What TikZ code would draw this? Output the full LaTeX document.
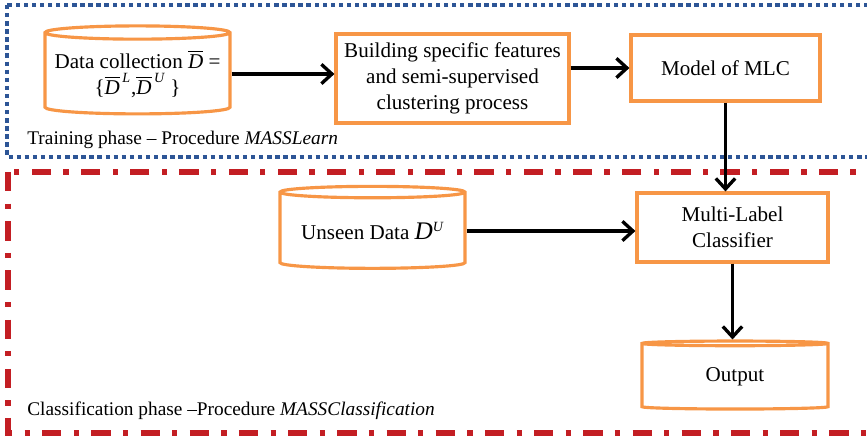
\documentclass[tikz,border=0pt]{standalone}
\usepackage{amsmath}
\usepackage{fontspec}
\setmainfont{Liberation Serif}
\usetikzlibrary{shapes.geometric,arrows.meta,positioning}
\definecolor{boxorange}{RGB}{247,150,70}
\definecolor{trainblue}{RGB}{45,85,150}
\definecolor{classred}{RGB}{195,30,35}

\begin{document}
\begin{tikzpicture}[x=0.02cm, y=-0.02cm,
    procbox/.style={draw=boxorange, line width=1.8pt, fill=white, align=center,
        inner sep=0pt, font=\fontsize{12}{15}\selectfont},
    database/.style={cylinder, shape border rotate=90, aspect=0.08, draw=boxorange,
        line width=1.8pt, fill=white, align=center, inner sep=0pt,
        font=\fontsize{12}{15}\selectfont},
    flow/.style={-{Straight Barb[length=6pt,width=11pt]}, line width=1.9pt},
    phase/.style={anchor=west, inner sep=0pt, font=\fontsize{11}{14}\selectfont}]
    \useasboundingbox (0,0) rectangle (867,439);

    % Phase frames
    \draw[trainblue, line width=2.5pt, dash pattern=on 2.5pt off 2.1pt] (7,5) rectangle (900,157); % Training
    \draw[classred, line width=3pt, dash pattern=on 11pt off 7pt on 3pt off 7pt] (8,172) rectangle (900,433); % Classification

    % Training phase
    \node[database, minimum width=185*0.02cm, minimum height=88*0.02cm] (data) at (137.5,74)
        {Data collection $\overline{\textit{D}}$ =\\ \{$\overline{\textit{D}}^{\,\textit{L}}$,$\overline{\textit{D}}^{\,\textit{U}}$ \}};
    \node[procbox, minimum width=233*0.02cm, minimum height=89*0.02cm] (build) at (452.5,78.5)
        {Building specific features\\and semi-supervised\\clustering process};
    \node[procbox, minimum width=189*0.02cm, minimum height=66*0.02cm] (model) at (725.5,68) {Model of MLC};
    \node[phase] (trainlbl) at (27,140) {Training phase -- Procedure \textit{MASSLearn}};

    % Classification phase
    \node[procbox, minimum width=191*0.02cm, minimum height=69*0.02cm] (mlc) at (732.5,227.5) {Multi-Label\\Classifier};
    \node[database, minimum width=185*0.02cm, minimum height=82*0.02cm] (unseen) at (372.5,231)
        {Unseen Data \textit{\Large D}$^{\textit{U}}$};
    \node[database, minimum width=186*0.02cm, minimum height=68*0.02cm] (output) at (735,377) {Output};
    \node[phase] (classlbl) at (27,411) {Classification phase --Procedure \textit{MASSClassification}};

    % Flow
    \draw[flow] (data.east) -- (data.east -| build.west);
    \draw[flow] (build.east |- model.west) -- (model.west);
    \draw[flow] (model.south) -- (model.south |- mlc.north);
    \draw[flow] (unseen.east) -- (unseen.east -| mlc.west);
    \draw[flow] (mlc.south) -- (mlc.south |- output.north);
\end{tikzpicture}
\end{document}
